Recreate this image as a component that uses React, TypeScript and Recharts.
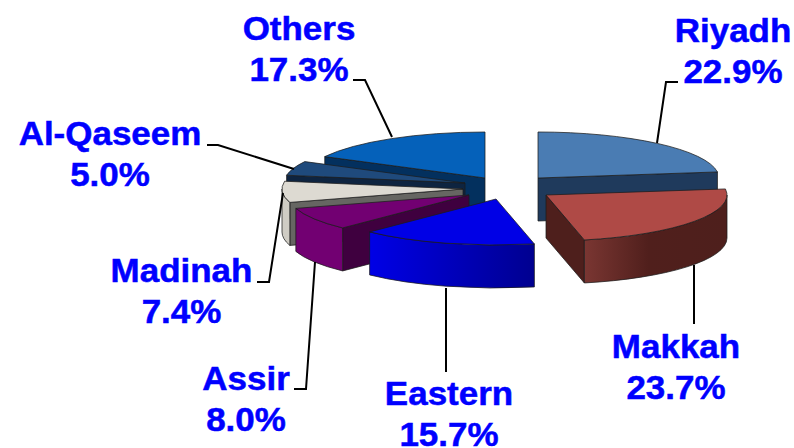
import { PieChart, Pie } from "recharts";

const regions = ["Riyadh", "Others", "Al-Qaseem", "Madinah", "Assir", "Eastern", "Makkah"];
const shares = [22.9, 17.3, 5.0, 7.4, 8.0, 15.7, 23.7];

const chartData = regions.map((name, i) => ({ name, value: shares[i] }));

// pie is squashed and extruded by hand, recharts only hands us the angles
const CX = 500;
const CY = 185;
const RX = 181;
const RY = 46;
const DEPTH = 43;

const sliceLook: Record<string, { dx: number; dy: number; top: string; face: string; side: string }> = {
  Riyadh: { dx: 38, dy: -7, top: "#4A7CB3", face: "#1F3A5C", side: "#1F3A5C" },
  Others: { dx: -15, dy: -7, top: "#0561BA", face: "#03305E", side: "#03305E" },
  "Al-Qaseem": { dx: -35, dy: -2, top: "#1F4A7C", face: "#0E2440", side: "#0E2440" },
  Madinah: { dx: -37, dy: 4, top: "#DDDAD2", face: "#666662", side: "#CFCCC4" },
  Assir: { dx: -31, dy: 10, top: "#720072", face: "#3F003F", side: "#720072" },
  Eastern: { dx: -4, dy: 14, top: "#0000E6", face: "#000090", side: "url(#easternSide)" },
  Makkah: { dx: 46, dy: 10, top: "#AF4A46", face: "#4E1F1C", side: "url(#makkahSide)" },
};

// text anchor (center x, first baseline) and leader line, in chart pixels
const labelSpots: Record<string, { x: number; y: number; line: string }> = {
  Riyadh: { x: 733, y: 42, line: "678,82 666,82 657,143" },
  Makkah: { x: 676, y: 358, line: "694,265 694,324" },
  Eastern: { x: 449, y: 405, line: "446,288 446,372" },
  Assir: { x: 246, y: 390, line: "294,389 306,389 315,262" },
  Madinah: { x: 181.5, y: 282, line: "257,282 269,282 283,193" },
  "Al-Qaseem": { x: 110, y: 145, line: "207,145 218,145 294,169" },
  Others: { x: 299, y: 40, line: "353,80 365,80 392,137" },
};

const EDGE = "#1c1c1c";

function Slice3D(props: any) {
  const { cx, cy, outerRadius, startAngle, endAngle, name, payload } = props;
  const look = sliceLook[name ?? payload?.name];
  const ax = cx + look.dx;
  const ay = cy + look.dy;
  const squash = RY / RX;
  const at = (deg: number) => {
    const r = (deg * Math.PI) / 180;
    return [ax + outerRadius * Math.cos(r), ay - outerRadius * squash * Math.sin(r)];
  };
  const a0 = Math.min(startAngle, endAngle);
  const a1 = Math.max(startAngle, endAngle);
  const [x0, y0] = at(a0);
  const [x1, y1] = at(a1);
  const arcTo = (x: number, y: number, sweep: number) =>
    `A ${outerRadius} ${outerRadius * squash} 0 0 ${sweep} ${x} ${y}`;

  const quad = (x: number, y: number) =>
    `M ${ax} ${ay} L ${x} ${y} L ${x} ${y + DEPTH} L ${ax} ${ay + DEPTH} Z`;

  // a cut face only shows when its outward side points down the screen
  const cos = (deg: number) => Math.cos((deg * Math.PI) / 180);
  const showStart = cos(a0) > 0.001;
  const showEnd = cos(a1) < -0.001;

  // outer wall only shows on the front half of the ellipse
  const lo = Math.max(a0, 180);
  const hi = Math.min(a1, 360);
  let wall = null;
  if (hi > lo) {
    const [wx0, wy0] = at(lo);
    const [wx1, wy1] = at(hi);
    const d = `M ${wx0} ${wy0} ${arcTo(wx1, wy1, 0)} L ${wx1} ${wy1 + DEPTH} ${arcTo(wx0, wy0 + DEPTH, 1)} Z`;
    wall = <path d={d} fill={look.side} stroke={EDGE} strokeWidth={0.75} />;
  }

  return (
    <g>
      {showStart && <path d={quad(x0, y0)} fill={look.face} stroke={EDGE} strokeWidth={0.75} />}
      {showEnd && <path d={quad(x1, y1)} fill={look.face} stroke={EDGE} strokeWidth={0.75} />}
      {wall}
      <path
        d={`M ${ax} ${ay} L ${x0} ${y0} ${arcTo(x1, y1, 0)} Z`}
        fill={look.top}
        stroke={EDGE}
        strokeWidth={0.75}
      />
    </g>
  );
}

function SliceLabel(props: any) {
  const { name, value } = props;
  const spot = labelSpots[name];
  const textStyle = {
    fontFamily: "'Liberation Sans', Arial, sans-serif",
    fontSize: 33,
    fontWeight: 700,
    fill: "#0000FF",
    stroke: "#0000FF",
    strokeWidth: 0.5,
  };
  return (
    <g>
      <polyline points={spot.line} fill="none" stroke="#000" strokeWidth={2} />
      <text transform={`translate(${spot.x} ${spot.y}) scale(1.06 1)`} textAnchor="middle" style={textStyle}>
        {name}
      </text>
      <text transform={`translate(${spot.x} ${spot.y + 41}) scale(1.06 1)`} textAnchor="middle" style={textStyle}>
        {`${value.toFixed(1)}%`}
      </text>
    </g>
  );
}

export default function App() {
  // counter-clockwise from Riyadh's far edge so the front slices paint last
  const start = 90 - shares[0] * 3.6;
  return (
    <div style={{ position: "absolute", left: 0, top: 0, width: 794, height: 448, background: "#fff" }}>
      <PieChart width={794} height={448} margin={{ top: 0, right: 0, bottom: 0, left: 0 }}>
        <defs>
          <linearGradient id="makkahSide" x1="0" y1="0" x2="1" y2="0">
            <stop offset="0%" stopColor="#7A3632" />
            <stop offset="45%" stopColor="#501F1C" />
            <stop offset="100%" stopColor="#4E1F1C" />
          </linearGradient>
          <linearGradient id="easternSide" x1="0" y1="0" x2="1" y2="0">
            <stop offset="0%" stopColor="#0000E6" />
            <stop offset="100%" stopColor="#000090" />
          </linearGradient>
        </defs>
        <Pie
          data={chartData}
          dataKey="value"
          nameKey="name"
          cx={CX}
          cy={CY}
          innerRadius={0}
          outerRadius={RX}
          startAngle={start}
          endAngle={start + 360}
          paddingAngle={0}
          shape={Slice3D}
          label={SliceLabel}
          labelLine={false}
          isAnimationActive={false}
        />
      </PieChart>
    </div>
  );
}
